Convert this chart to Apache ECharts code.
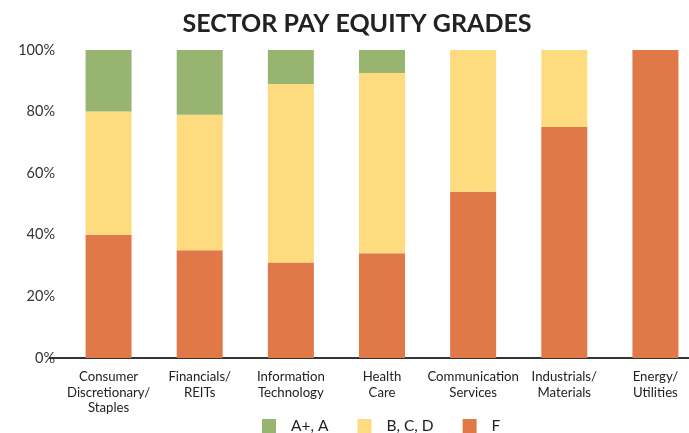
<!DOCTYPE html>
<html lang="en">
<head>
    <meta charset="UTF-8">
    <title>Sector pay equity grades</title>
    <script src="https://cdn.jsdelivr.net/npm/echarts@6/dist/echarts.min.js"></script>
</head>
<body style="margin:0">
<div id="main" style="width: 689px;height:433px;"></div>
<script>
    const sectors = ['Consumer\nDiscretionary/\nStaples', 'Financials/\nREITs', 'Information\nTechnology',
        'Health\nCare', 'Communication\nServices', 'Industrials/\nMaterials', 'Energy/\nUtilities'];
    const gradeF = [40, 35, 31, 34, 54, 75, 100];
    const gradeBCD = [40, 44, 58, 58.5, 46, 25, 0];
    const gradeA = [20, 21, 11, 7.5, 0, 0, 0];
    const yTicks = [0, 20, 40, 60, 80, 100];

    const myChart = echarts.init(document.getElementById('main'));
    const font = 'Lato, "Noto Sans", sans-serif';

    option = {
        title: {
            text: 'SECTOR PAY EQUITY GRADES',
            left: 352,
            textAlign: 'center',
            top: 6,
            textStyle: {fontFamily: font, fontSize: 25, fontWeight: 'bold', color: '#222'}
        },
        legend: {
            data: ['A+, A', 'B, C, D', 'F'],
            left: 262,
            top: 418,
            padding: 0,
            itemWidth: 14,
            itemHeight: 14,
            itemGap: 29,
            icon: 'rect',
            textStyle: {fontFamily: font, fontSize: 15.5, color: '#222', padding: [0, 0, 0, 10]}
        },
        grid: {left: 63, width: 638, top: 50, bottom: 75, outerBoundsMode: 'none'},
        xAxis: {
            type: 'category',
            data: sectors,
            axisTick: {show: false},
            axisLine: {lineStyle: {color: '#333', width: 2}},
            axisLabel: {interval: 0, fontFamily: font, fontSize: 13.2, color: '#222', lineHeight: 15.5, margin: 11}
        },
        yAxis: {
            type: 'value',
            min: 0,
            max: 100,
            interval: 20,
            splitLine: {show: false},
            axisLabel: {
                fontFamily: font, fontSize: 14.5, color: '#333', margin: 8,
                formatter: function (v) {
                    return yTicks.indexOf(v) >= 0 ? v + '%' : '';
                }
            }
        },
        graphic: [{
            type: 'line',
            shape: {x1: 49, y1: 358, x2: 64, y2: 358},
            style: {stroke: '#333', lineWidth: 2}
        }],
        series: [{
            name: 'F', type: 'bar', stack: 'g', barWidth: 46, data: gradeF,
            itemStyle: {color: '#E07848'}
        }, {
            name: 'B, C, D', type: 'bar', stack: 'g', data: gradeBCD,
            itemStyle: {color: '#FEDB7F'}
        }, {
            name: 'A+, A', type: 'bar', stack: 'g', data: gradeA,
            itemStyle: {color: '#98B471'}
        }]
    };
    myChart.setOption(option);
</script>
</body>
</html>
